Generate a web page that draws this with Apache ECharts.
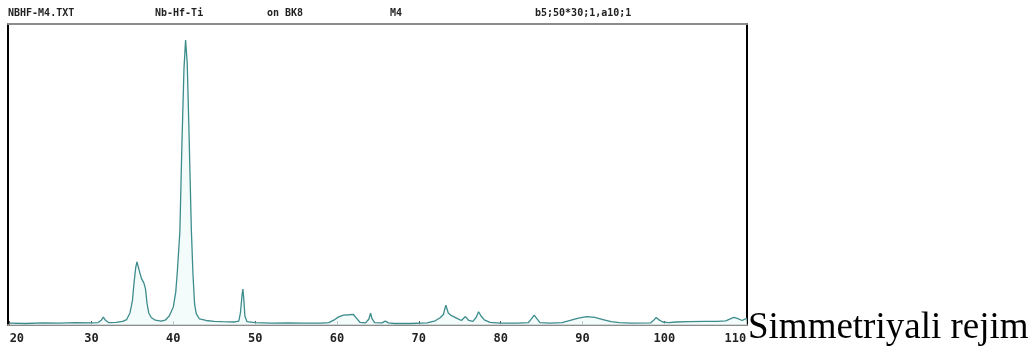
<!DOCTYPE html>
<html>
<head>
<meta charset="utf-8">
<script src="https://cdn.jsdelivr.net/npm/echarts@6/dist/echarts.min.js"></script>
<style>
html,body{margin:0;padding:0;background:#fff;}
#chart{width:1033px;height:354px;}
</style>
</head>
<body>
<div id="chart"></div>
<script>
// 2-theta positions (degrees)
const twoTheta = [20.0,22,24,26,28,30,30.8,31.2,31.45,31.7,32.1,33.0,33.8,34.3,34.7,35.0,35.2,35.4,35.55,35.8,36.1,36.4,36.6,36.8,37.0,37.3,37.8,38.5,39.0,39.5,40.0,40.3,40.5,40.8,41.05,41.3,41.5,41.7,41.9,42.2,42.4,42.6,42.8,43.2,44,45,46,47.5,48.0,48.2,48.4,48.5,48.6,48.75,49.0,50,52,54,56,58,59.0,59.6,60.2,60.8,61.5,62.0,62.4,62.8,63.5,63.9,64.1,64.3,64.6,65.5,65.9,66.3,67,69,71,72,72.6,73.0,73.3,73.6,74.0,74.6,75.2,75.7,76.1,76.6,77.0,77.3,77.6,78.0,78.7,80,82,83.4,83.8,84.1,84.4,84.8,86,87.5,88.5,89.5,90.5,91.5,92.5,93.5,94.5,96,98.3,98.7,99.0,99.3,99.8,100.5,101.5,103,105,106.5,107.5,108.2,108.5,108.9,109.5,110.1];
// intensity (relative units)
const intensity = [0.6,0.5,0.7,0.6,0.8,0.7,0.8,1.6,2.6,1.6,0.8,0.9,1.2,1.8,4,8,14,19,21,18.5,15.5,14,12,7,4,2.5,1.6,1.3,1.6,3,6,11,18,31,60,85,94.7,87,66,32,17,7,3.8,2,1.5,1.2,1.1,1.0,1.3,4,10,11.9,9,3,1.1,0.8,0.6,0.7,0.6,0.6,0.8,1.6,2.7,3.3,3.4,3.5,2.2,0.9,0.7,2.0,3.9,2.0,0.8,0.7,1.3,0.7,0.5,0.5,0.7,1.4,2.4,3.5,6.6,4.0,3.1,2.3,1.5,2.8,1.5,1.2,2.5,4.4,3.0,1.7,0.9,0.6,0.6,0.8,2.2,3.3,2.2,0.8,0.6,0.8,1.5,2.3,2.8,2.5,1.8,1.1,0.8,0.6,0.7,1.6,2.5,1.8,1.0,0.8,1.0,1.1,1.2,1.2,1.4,2.2,2.5,2.2,1.5,2.3];
// tick labels
const tickValues = [20,30,40,50,60,70,80,90,100,110];
// header texts
const headerTexts = ["NBHF-M4.TXT","Nb-Hf-Ti","on BK8","M4","b5;50*30;1,a10;1"];
const headerLeft = [8,155,267,390,535];
const sideText = "Simmetriyali rejim";

const chart = echarts.init(document.getElementById('chart'));
const data = twoTheta.map((t,i)=>[t,intensity[i]]);
const monoFont = '"DejaVu Sans Mono", monospace';

const titles = headerTexts.map((t,i)=>({
  text: t, left: headerLeft[i], top: 8, padding: 0,
  textStyle:{fontFamily:monoFont,fontWeight:'bold',fontSize:10,color:'#222'}
}));

chart.setOption({
  animation:false,
  backgroundColor:'#fff',
  title: titles,
  grid:{left:8,right:286,top:24,bottom:29},
  xAxis:[{
    type:'value', min:19.8, max:110.1, position:'bottom',
    axisLine:{show:true,onZero:false,lineStyle:{color:'#8c8c8c',width:2}},
    axisTick:{show:true,inside:true,length:4,customValues:tickValues,lineStyle:{color:'#555',width:1}},
    axisLabel:{customValues:tickValues,margin:8,fontFamily:monoFont,fontWeight:'bold',fontSize:12,color:'#222',alignMinLabel:'left',alignMaxLabel:'right'},
    splitLine:{show:false}
  },{
    type:'value', min:19.8, max:110.1, position:'top',
    axisLine:{show:true,onZero:false,lineStyle:{color:'#8c8c8c',width:2}},
    axisTick:{show:false}, axisLabel:{show:false}, splitLine:{show:false}
  }],
  yAxis:[{
    type:'value', min:0, max:100, position:'left',
    axisLine:{show:true,onZero:false,lineStyle:{color:'#000',width:2}},
    axisTick:{show:false}, axisLabel:{show:false}, splitLine:{show:false}
  },{
    type:'value', min:0, max:100, position:'right',
    axisLine:{show:true,onZero:false,lineStyle:{color:'#000',width:2}},
    axisTick:{show:false}, axisLabel:{show:false}, splitLine:{show:false}
  }],
  series:[{
    type:'line', data:data, xAxisIndex:0, yAxisIndex:0,
    showSymbol:false, smooth:false,
    lineStyle:{color:'#3d8c8c',width:1.3},
    areaStyle:{color:'#effafa'}
  }],
  graphic:[{
    type:'text', left:748, top:310,
    style:{text:sideText, font:'37px "Liberation Serif", "Times New Roman", serif', fill:'#000'}
  }]
});
</script>
</body>
</html>
